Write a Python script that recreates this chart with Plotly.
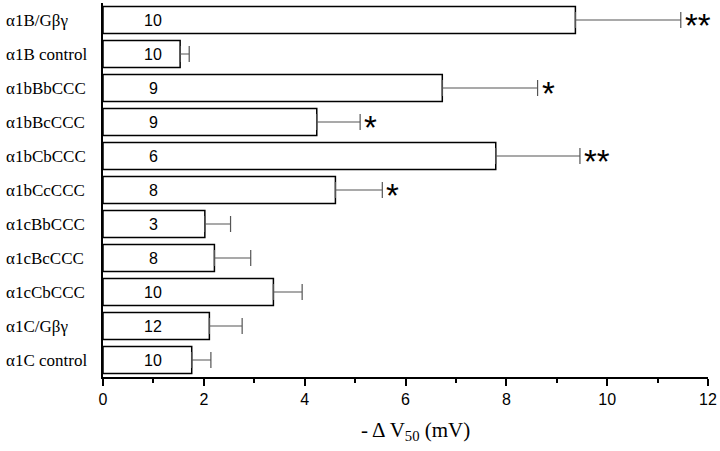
import plotly.graph_objects as go

# data (top to bottom)
constructs = ["α1B/Gβγ", "α1B control", "α1bBbCCC", "α1bBcCCC", "α1bCbCCC", "α1bCcCCC",
              "α1cBbCCC", "α1cBcCCC", "α1cCbCCC", "α1C/Gβγ", "α1C control"]
dv50 = [9.37, 1.53, 6.73, 4.24, 7.79, 4.61, 2.02, 2.21, 3.38, 2.11, 1.76]
sem = [2.09, 0.18, 1.89, 0.86, 1.67, 0.93, 0.51, 0.72, 0.57, 0.65, 0.38]
n_cells = [10, 10, 9, 9, 6, 8, 3, 8, 10, 12, 10]
signif = ["**", "", "*", "*", "**", "*", "", "", "", "", ""]

fig = go.Figure()
fig.add_trace(go.Bar(
    y=constructs, x=dv50, orientation="h", width=0.8,
    marker=dict(color="white", line=dict(color="black", width=1.5)),
    error_x=dict(type="data", array=sem, arrayminus=[0] * len(sem), symmetric=False,
                 color="#555555", thickness=1.2, width=8),
))

# n per bar
for name, n in zip(constructs, n_cells):
    fig.add_annotation(x=1, y=name, text=str(n), showarrow=False,
                       font=dict(family="Arial", size=16, color="black"))

# significance stars
for name, v, e, s in zip(constructs, dv50, sem, signif):
    if s:
        fig.add_annotation(x=v + e, y=name, text=s, showarrow=False, xanchor="left",
                           xshift=2, yshift=-5,
                           font=dict(family="Arial Black, Arial", size=33, color="black"))

# left-aligned category labels
for name in constructs:
    fig.add_annotation(x=-0.164, xref="paper", y=name, text=name, showarrow=False,
                       xanchor="left",
                       font=dict(family="Liberation Serif, Times New Roman", size=17, color="black"))

fig.add_annotation(x=0.516, xref="paper", y=-0.145, yref="paper", yanchor="middle",
                   text="- Δ V<sub>50</sub> (mV)", showarrow=False,
                   font=dict(family="Liberation Serif, Times New Roman", size=21, color="black"))

fig.update_xaxes(range=[0, 12], dtick=2, ticks="outside", ticklen=7, tickwidth=2,
                 tickcolor="black", showline=True, linecolor="black", linewidth=2,
                 showgrid=False, zeroline=False, automargin=False,
                 minor=dict(dtick=1, ticks="outside", ticklen=4, tickwidth=1.5, tickcolor="black"),
                 tickfont=dict(family="Arial", size=16, color="black"))
fig.update_yaxes(range=[10.5, -0.5], showticklabels=False, showline=True, linecolor="black",
                 linewidth=2, showgrid=False, zeroline=False, ticks="", automargin=False)
fig.update_layout(width=720, height=451, margin=dict(l=103, r=12, t=3, b=74),
                  plot_bgcolor="white", paper_bgcolor="white", showlegend=False)

fig.write_html("out.html", config={"displayModeBar": False},
               post_script="document.body.style.margin='0';")
